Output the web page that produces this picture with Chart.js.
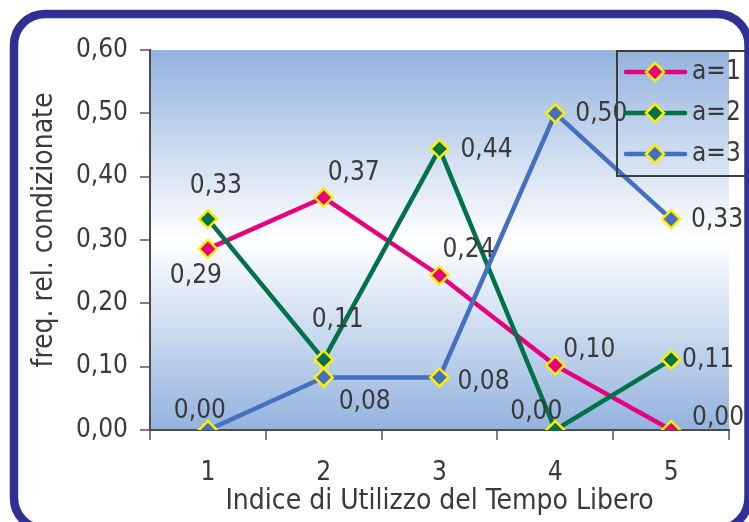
<!DOCTYPE html>
<html>
<head>
<meta charset="utf-8">
<script src="https://cdn.jsdelivr.net/npm/chart.js@4/dist/chart.umd.min.js"></script>
<style>
  html, body { margin: 0; padding: 0; background: #ffffff; }
  #wrap { width: 749px; height: 522px; }
</style>
</head>
<body>
<div id="wrap"><canvas id="c" width="749" height="522"></canvas></div>
<script>
// Categories of the usage index and conditional relative frequencies per class
const categories = ['1', '2', '3', '4', '5'];
const seriesNames = ['a=1', 'a=2', 'a=3'];
const freqA1 = [0.286, 0.367, 0.244, 0.102, 0.000];
const freqA2 = [0.333, 0.111, 0.444, 0.000, 0.111];
const freqA3 = [0.000, 0.083, 0.083, 0.500, 0.333];
const yTickValues = [0, 0.1, 0.2, 0.3, 0.4, 0.5, 0.6];

const xTitle = 'Indice di Utilizzo del Tempo Libero';
const yTitle = 'freq. rel. condizionate';

// Styling
const FONT = '"DejaVu Sans Condensed", "DejaVu Sans", sans-serif';
const FONT_FAMILY = 'DejaVu Sans Condensed';
const FONT_SIZE = 26;
const TITLE_SIZE = 28;
const TEXT = '#3a3a3a';
const COLORS = ['#e6007e', '#00724a', '#4570bf'];
const MARKER_EDGE = '#ffee00';

// Where each value label sits relative to its point (dx, dy in px)
const labelOffsets = [
  [[-12, 27], [30, -24], [29, -25], [34, -15], [47, -12]],
  [[8, -33], [14, -39], [47, 1], [-19, -18], [37, 1]],
  [[-8, -19], [41, 25], [44, 5], [46, 1], [46, 1]]
];

const fmt = v => v.toFixed(2).replace('.', ',');

const seriesValues = [freqA1, freqA2, freqA3];
const datasets = seriesValues.map((vals, i) => ({
  label: seriesNames[i],
  data: vals,
  borderColor: COLORS[i],
  backgroundColor: COLORS[i],
  borderWidth: 4.5,
  pointStyle: 'rectRot',
  pointRadius: 9,
  pointBorderWidth: 2.5,
  pointBackgroundColor: COLORS[i],
  pointBorderColor: MARKER_EDGE,
  tension: 0,
  order: seriesValues.length - i
}));

// Plot background: blue at top and bottom, fading to white in the middle
const plotBackground = {
  id: 'plotBackground',
  beforeDraw(chart) {
    const { ctx, chartArea: a } = chart;
    ctx.save();
    ctx.fillStyle = '#ffffff';
    ctx.fillRect(0, 0, chart.width, chart.height);
    const g = ctx.createLinearGradient(0, a.top, 0, a.bottom);
    g.addColorStop(0, '#93b3de');
    g.addColorStop(0.5, '#ffffff');
    g.addColorStop(1, '#93b3de');
    ctx.fillStyle = g;
    ctx.fillRect(a.left, a.top, a.right - a.left, a.bottom - a.top);
    ctx.restore();
  }
};

// Vertical axis title, drawn beside the tick labels
const yAxisTitle = {
  id: 'yAxisTitle',
  afterDraw(chart) {
    const { ctx } = chart;
    ctx.save();
    ctx.translate(45, 230);
    ctx.rotate(-Math.PI / 2);
    ctx.font = TITLE_SIZE + 'px ' + FONT;
    ctx.fillStyle = TEXT;
    ctx.textAlign = 'center';
    ctx.textBaseline = 'middle';
    ctx.fillText(yTitle, 0, 0);
    ctx.restore();
  }
};

// Value labels next to each marker
const valueLabels = {
  id: 'valueLabels',
  afterDatasetsDraw(chart) {
    const { ctx } = chart;
    ctx.save();
    ctx.font = FONT_SIZE + 'px ' + FONT;
    ctx.fillStyle = TEXT;
    ctx.textAlign = 'center';
    ctx.textBaseline = 'middle';
    chart.data.datasets.forEach((ds, i) => {
      const meta = chart.getDatasetMeta(i);
      meta.data.forEach((pt, j) => {
        const [dx, dy] = labelOffsets[i][j];
        ctx.fillText(fmt(ds.data[j]), pt.x + dx, pt.y + dy);
      });
    });
    ctx.restore();
  }
};

function diamond(ctx, x, y, r, fill, edge, lw) {
  ctx.beginPath();
  ctx.moveTo(x - r, y);
  ctx.lineTo(x, y - r);
  ctx.lineTo(x + r, y);
  ctx.lineTo(x, y + r);
  ctx.closePath();
  ctx.fillStyle = fill;
  ctx.fill();
  ctx.lineWidth = lw;
  ctx.strokeStyle = edge;
  ctx.stroke();
}

// Boxed legend in the upper right and the rounded outer frame
const legendAndFrame = {
  id: 'legendAndFrame',
  afterDraw(chart) {
    const { ctx } = chart;
    ctx.save();
    const bx = 617, by = 51, bw = 130, bh = 125;
    const rows = [72, 113, 154];
    chart.data.datasets.forEach((ds, i) => {
      const y = rows[i];
      ctx.strokeStyle = ds.borderColor;
      ctx.lineWidth = 4.5;
      ctx.lineCap = 'round';
      ctx.beginPath();
      ctx.moveTo(626, y);
      ctx.lineTo(685, y);
      ctx.stroke();
      diamond(ctx, 655, y, 9, ds.borderColor, MARKER_EDGE, 2.5);
      ctx.font = FONT_SIZE + 'px ' + FONT;
      ctx.fillStyle = TEXT;
      ctx.textAlign = 'left';
      ctx.textBaseline = 'middle';
      ctx.fillText(ds.label, 692, y);
    });
    ctx.lineWidth = 2;
    ctx.strokeStyle = '#3d3d3d';
    ctx.strokeRect(bx, by, bw, bh);

    ctx.lineWidth = 8.5;
    ctx.strokeStyle = '#2e3192';
    ctx.beginPath();
    ctx.roundRect(14, 14, 734.5, 515, 31);
    ctx.stroke();
    ctx.restore();
  }
};

new Chart(document.getElementById('c'), {
  type: 'line',
  data: { labels: categories, datasets },
  options: {
    responsive: false,
    animation: false,
    devicePixelRatio: 1,
    layout: { padding: { top: 50, right: 20, left: 0, bottom: 0 } },
    plugins: {
      legend: { display: false },
      tooltip: { enabled: false }
    },
    scales: {
      x: {
        offset: true,
        grid: { offset: true, drawOnChartArea: false, drawTicks: true, tickLength: 10, color: '#808080', lineWidth: 2 },
        border: { color: '#4d4d4d', width: 2 },
        ticks: { font: { family: FONT_FAMILY, size: FONT_SIZE }, color: TEXT, padding: 18, maxRotation: 0 },
        title: { display: true, text: xTitle, font: { family: FONT_FAMILY, size: TITLE_SIZE }, color: TEXT, padding: { top: 0, bottom: 3 } },
        afterFit(scale) { scale.height = 92; }
      },
      y: {
        min: 0,
        max: 0.6,
        afterBuildTicks(scale) { scale.ticks = yTickValues.map(v => ({ value: v })); },
        grid: { drawOnChartArea: false, drawTicks: true, tickLength: 10, color: '#808080', lineWidth: 2 },
        border: { color: '#4d4d4d', width: 2 },
        ticks: { font: { family: FONT_FAMILY, size: FONT_SIZE }, color: TEXT, padding: 12, callback: v => fmt(v) },
        title: { display: false },
        afterFit(scale) { scale.width = 150; }
      }
    }
  },
  plugins: [plotBackground, valueLabels, yAxisTitle, legendAndFrame]
});
</script>
</body>
</html>
